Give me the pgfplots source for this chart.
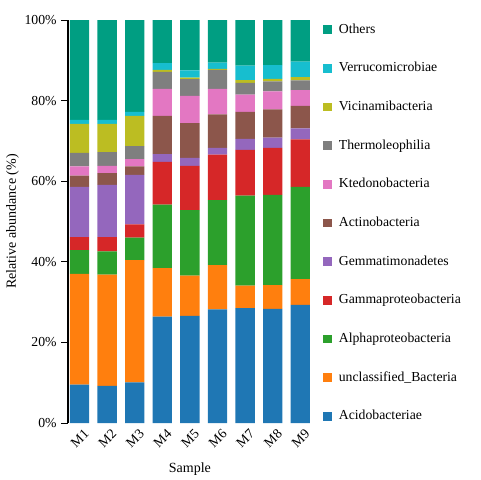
\documentclass[border=0pt]{standalone}
\usepackage{fontspec}
\setmainfont{Liberation Serif}
\usepackage{pgfplots}
\usepackage{pgfplotstable}
\pgfplotsset{compat=1.18}

\definecolor{cAcido}{HTML}{1F77B4}
\definecolor{cUncl}{HTML}{FF7F0E}
\definecolor{cAlpha}{HTML}{2CA02C}
\definecolor{cGamma}{HTML}{D62728}
\definecolor{cGemma}{HTML}{9467BD}
\definecolor{cActino}{HTML}{8C564B}
\definecolor{cKted}{HTML}{E377C2}
\definecolor{cThermo}{HTML}{7F7F7F}
\definecolor{cVicin}{HTML}{BCBD22}
\definecolor{cVerru}{HTML}{17BECF}
\definecolor{cOthers}{HTML}{009E82}

% relative abundance (%) per sample
\pgfplotstableread{
x  Acido Uncl Alpha Gamma Gemma Actino Kted Thermo Vicin Verru Others
1  9.5   27.5 5.9   3.2   12.5  2.8    2.3  3.3    7.2   1.0   24.8
2  9.2   27.6 5.8   3.5   13.0  2.9    1.8  3.4    7.0   1.0   24.8
3  10.1  30.3 5.6   3.3   12.3  2.1    1.8  3.2    7.5   1.0   22.8
4  26.4  12.0 15.8  10.6  1.9   9.5    6.7  4.2    0.5   1.7   10.7
5  26.6  10.0 16.2  11.0  2.0   8.6    6.8  4.1    0.4   1.8   12.5
6  28.2  11.0 16.1  11.3  1.7   8.3    6.3  4.7    0.3   1.5   10.6
7  28.5  5.6  22.3  11.4  2.7   6.7    4.3  2.9    0.7   3.6   11.3
8  28.3  5.9  22.4  11.7  2.5   7.0    4.5  2.5    0.6   3.4   11.2
9  29.3  6.4  22.9  11.8  2.7   5.6    3.9  2.4    0.8   3.9   10.3
}\abund

\begin{document}
\begin{tikzpicture}
\path[use as bounding box] (0,0) rectangle (360pt,360pt);
\begin{axis}[
  at={(51pt,42.75pt)}, anchor=south west,
  scale only axis, width=182.85pt, height=302.25pt,
  ybar stacked, bar width=14.5pt,
  xmin=0.583, xmax=9.417, ymin=0, ymax=100,
  axis lines*=left,
  x axis line style={draw=none},
  y axis line style={black, line width=0.8pt},
  xtick={1,...,9},
  xticklabels={M1,M2,M3,M4,M5,M6,M7,M8,M9},
  x tick style={draw=none},
  xticklabel style={rotate=45, anchor=north east, inner sep=1pt, xshift=4pt},
  ytick={0,20,...,100},
  yticklabel={\pgfmathprintnumber{\tick}\%},
  y tick style={black, line width=0.6pt},
  tick align=outside, major tick length=5pt,
  /pgf/number format/assume math mode=true,
  tick label style={font=\fontsize{10.3}{12}\selectfont},
  label style={font=\fontsize{10.5}{12}\selectfont},
  xlabel={Sample},
  ylabel={Relative abundance (\%)},
  xlabel style={at={(axis description cs:0.5,0)}, anchor=north, yshift=-26pt},
  ylabel style={at={(axis description cs:-0.228,0.5)}, anchor=center},
  reverse legend,
  legend cell align=left,
  legend style={
    at={(axis description cs:1,1)}, anchor=north west,
    xshift=5.5pt, yshift=9.5pt,
    draw=none, fill=none, row sep=0pt,
    font=\fontsize{10.3}{12}\selectfont,
    nodes={minimum height=29pt, inner sep=0pt, text height=1.6ex, text depth=0.4ex},
    /tikz/every odd column/.append style={column sep=5pt},
  },
  legend image code/.code={\fill[#1] (0pt,-3.3pt) rectangle (6.6pt,3.3pt);},
  every axis plot/.append style={draw=none},
]
\addplot[fill=cAcido]  table[x=x, y=Acido]  {\abund}; \addlegendentry{Acidobacteriae}
\addplot[fill=cUncl]   table[x=x, y=Uncl]   {\abund}; \addlegendentry{unclassified\_Bacteria}
\addplot[fill=cAlpha]  table[x=x, y=Alpha]  {\abund}; \addlegendentry{Alphaproteobacteria}
\addplot[fill=cGamma]  table[x=x, y=Gamma]  {\abund}; \addlegendentry{Gammaproteobacteria}
\addplot[fill=cGemma]  table[x=x, y=Gemma]  {\abund}; \addlegendentry{Gemmatimonadetes}
\addplot[fill=cActino] table[x=x, y=Actino] {\abund}; \addlegendentry{Actinobacteria}
\addplot[fill=cKted]   table[x=x, y=Kted]   {\abund}; \addlegendentry{Ktedonobacteria}
\addplot[fill=cThermo] table[x=x, y=Thermo] {\abund}; \addlegendentry{Thermoleophilia}
\addplot[fill=cVicin]  table[x=x, y=Vicin]  {\abund}; \addlegendentry{Vicinamibacteria}
\addplot[fill=cVerru]  table[x=x, y=Verru]  {\abund}; \addlegendentry{Verrucomicrobiae}
\addplot[fill=cOthers] table[x=x, y=Others] {\abund}; \addlegendentry{Others}
\end{axis}
\end{tikzpicture}
\end{document}
